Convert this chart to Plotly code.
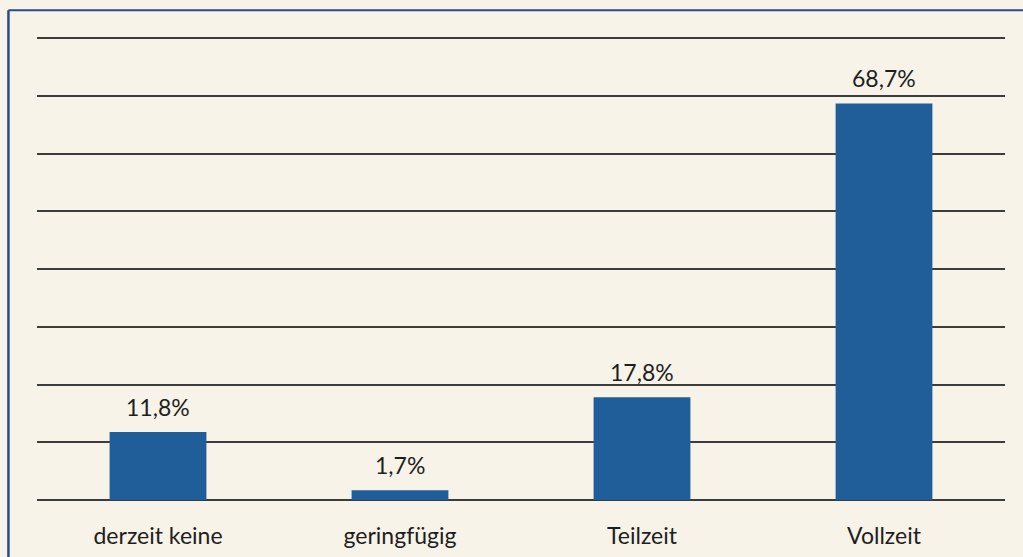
import plotly.graph_objects as go

categories = ["derzeit keine", "geringfügig", "Teilzeit", "Vollzeit"]
values = [11.8, 1.7, 17.8, 68.7]
value_labels = ["11,8%", "1,7%", "17,8%", "68,7%"]

bar_color = "#1f5e98"
bg = "#f7f3e8"
grid = "#3c3c3c"
font_family = "Lato, 'Open Sans', sans-serif"

fig = go.Figure()
fig.add_trace(go.Bar(
    x=categories, y=values, marker=dict(color=bar_color, line=dict(width=0)),
    width=0.4, hoverinfo="skip",
))

for c, v, t in zip(categories, values, value_labels):
    fig.add_annotation(x=c, y=v, text=t, showarrow=False, yanchor="middle",
                       yshift=25, font=dict(size=23, color="#1e1e1e", family=font_family))

fig.update_layout(
    width=1023, height=557,
    margin=dict(l=37, r=18, t=37, b=57),
    paper_bgcolor=bg, plot_bgcolor=bg,
    showlegend=False,
    bargap=0.6,
    xaxis=dict(showgrid=False, zeroline=False, showline=False, ticks="",
               tickfont=dict(size=23, color="#1e1e1e", family=font_family),
               ticklabelstandoff=20, automargin=False),
    yaxis=dict(range=[0, 80.2], dtick=10, showgrid=True, gridcolor=grid, gridwidth=1.5,
               zeroline=True, zerolinecolor=grid, zerolinewidth=1.5,
               showticklabels=False, ticks="", showline=False, automargin=False),
)

# frame of the chart box
fig.add_shape(type="line", xref="paper", yref="paper",
              x0=-0.0295, x1=1.03, y0=1.058, y1=1.058,
              line=dict(color="#2b4a8c", width=2))
fig.add_shape(type="line", xref="paper", yref="paper",
              x0=-0.0295, x1=-0.0295, y0=1.058, y1=-0.2,
              line=dict(color="#2b4a8c", width=2.5))

fig.write_html("out.html", config={"displayModeBar": False},
               post_script="document.body.style.margin='0';document.body.style.overflow='hidden';")
